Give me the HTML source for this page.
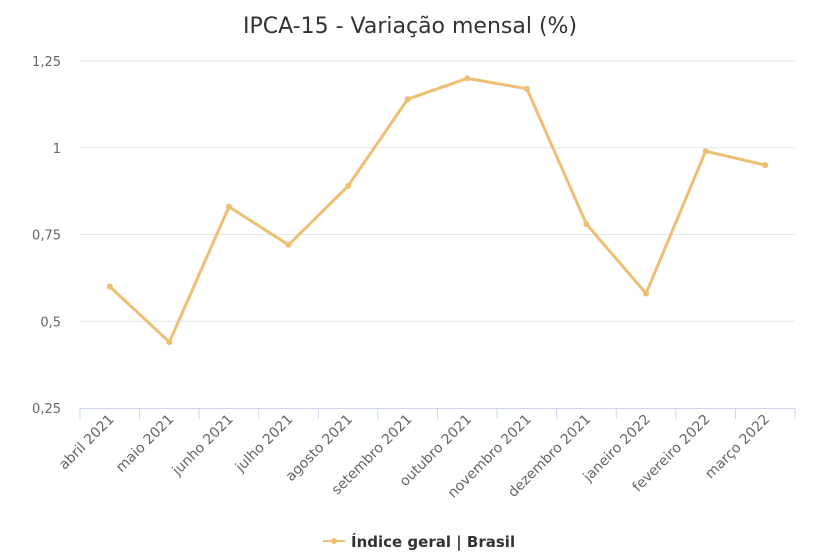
<!DOCTYPE html>
<html><head><meta charset="utf-8"><style>
html,body{margin:0;padding:0;background:#fff;}
svg{display:block;font-family:"DejaVu Sans","Liberation Sans",sans-serif;}
</style></head><body>
<svg id="chart" width="817" height="559" viewBox="0 0 817 559">
<text x="410" y="33" text-anchor="middle" font-size="22" fill="#333">IPCA-15 - Variação mensal (%)</text>
<g id="grid"></g><g id="xaxis"></g><g id="series"></g>
<g>
<line x1="323" y1="541" x2="345" y2="541" stroke="#eebf73" stroke-width="2"/>
<circle cx="334" cy="541" r="3" fill="#eebf73"/>
<text x="351" y="547" font-size="15" font-weight="bold" fill="#333">Índice geral | Brasil</text>
</g>
</svg>
<script>
const categories=["abril 2021","maio 2021","junho 2021","julho 2021","agosto 2021","setembro 2021","outubro 2021","novembro 2021","dezembro 2021","janeiro 2022","fevereiro 2022","março 2022"];
const values=[0.60,0.44,0.83,0.72,0.89,1.14,1.20,1.17,0.78,0.58,0.99,0.95];
const yTicks=[0.25,0.5,0.75,1,1.25];
const yTickLabels=["0,25","0,5","0,75","1","1,25"];
const NS="http://www.w3.org/2000/svg";
const L=80,R=795,T=61,B=408,ymin=0.25,ymax=1.25;
const bw=(R-L)/categories.length;
const x=i=>L+bw*(i+0.5);
const y=v=>B-(v-ymin)/(ymax-ymin)*(B-T);
function mk(tag,attrs,parent){const e=document.createElementNS(NS,tag);for(const k in attrs)e.setAttribute(k,attrs[k]);parent.appendChild(e);return e;}
const grid=document.getElementById('grid'),xa=document.getElementById('xaxis'),se=document.getElementById('series');
yTicks.forEach((t,i)=>{
 if(t!==ymin){const g=mk('line',{x1:L,x2:R,y1:y(t),y2:y(t),stroke:'#e6e6e6','stroke-width':1},grid);
 
 }
 const tx=mk('text',{x:L-19,y:y(t)+5,'text-anchor':'end','font-size':13,fill:'#666'},grid);tx.textContent=yTickLabels[i];
 
 
});
const ax=mk('line',{x1:L,x2:R,y1:B+0.5,y2:B+0.5,stroke:'#ccd6eb'},xa);


for(let i=0;i<=categories.length;i++){mk('line',{x1:L+bw*i,x2:L+bw*i,y1:B,y2:B+11,stroke:'#ccd6eb'},xa);}
categories.forEach((c,i)=>{
 const px=x(i)+5,py=B+12;
 const t=mk('text',{x:px,y:py,'text-anchor':'end','font-size':14,fill:'#666',transform:`rotate(-45 ${px} ${py})`},xa);
 t.textContent=c;
 
 
});
const pts=values.map((v,i)=>x(i)+','+y(v)).join(' ');
const pl=mk('polyline',{points:pts,fill:'none',stroke:'#eebf73','stroke-width':3,'stroke-linejoin':'round'},se);


values.forEach((v,i)=>{const c=mk('circle',{cx:x(i),cy:y(v),r:3,fill:'#eebf73'},se);
 
 });
</script>
</body></html>
